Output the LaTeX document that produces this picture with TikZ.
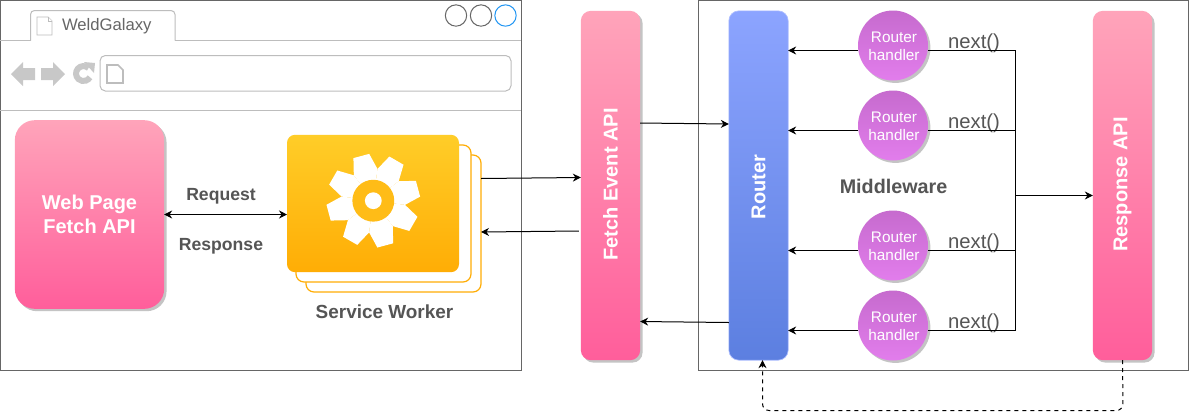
\documentclass[tikz,border=0pt]{standalone}
\usepackage{fontspec}
\setmainfont{Liberation Sans}
\usetikzlibrary{arrows.meta,shadows}
\definecolor{framegray}{HTML}{666666}
\definecolor{linegray}{HTML}{BDBDBD}
\definecolor{icongray}{HTML}{C8C8C8}
\definecolor{textgray}{HTML}{555555}
\definecolor{shadowgray}{HTML}{C4C4C4}
\definecolor{pinktop}{HTML}{FFA4BA}
\definecolor{pinkbot}{HTML}{FF5E9B}
\definecolor{bluetop}{HTML}{8CA4FF}
\definecolor{bluebot}{HTML}{5C7FE0}
\definecolor{purtop}{HTML}{C66BCE}
\definecolor{purbot}{HTML}{E27DEC}
\definecolor{ambertop}{HTML}{FFCD28}
\definecolor{amberbot}{HTML}{FFAD05}
\definecolor{ambermid}{HTML}{FFBC17}
\definecolor{winblue}{HTML}{2196F3}
\tikzset{
  x=0.75pt,y=-0.75pt,
  every node/.style={inner sep=0pt,outer sep=0pt},
  shad/.style={drop shadow={shadow xshift=1.8pt,shadow yshift=-1.8pt,fill=shadowgray,opacity=1}},
  pinkbar/.style={rectangle,rounded corners=7.5pt,top color=pinktop,bottom color=pinkbot,shad},
  bluebar/.style={rectangle,rounded corners=7.5pt,top color=bluetop,bottom color=bluebot,draw=bluetop!70!white,line width=0.5pt},
  handler/.style={circle,minimum size=52.5pt,top color=purtop,bottom color=purbot,shad},
  handlertext/.style={text=white,font=\fontsize{11.5}{13.5}\selectfont,align=center},
  whitebold/.style={text=white,font=\bfseries\fontsize{15}{18}\selectfont,align=center},
  graybold/.style={text=textgray,font=\bfseries\fontsize{14.2}{17}\selectfont},
  mwbold/.style={text=textgray,font=\bfseries\fontsize{14.8}{17}\selectfont},
  smallbold/.style={text=textgray,font=\bfseries\fontsize{13.2}{15}\selectfont},
  nextlabel/.style={text=textgray,font=\fontsize{15.2}{17}\selectfont},
  conn/.style={-{Stealth[length=6pt,width=6pt]},line width=0.75pt,black},
  plainconn/.style={line width=0.75pt,black},
  panel/.style={draw=framegray,line width=0.75pt,fill=white},
  rule/.style={draw=linegray,line width=0.75pt},
  stackcard/.style={draw=amberbot,line width=0.9pt,fill=white,rounded corners=6pt},
  wincircle/.style={circle,draw=framegray,line width=0.75pt,minimum size=16pt},
  pageicon/.style={draw=linegray,fill=white,line width=0.6pt},
}
\begin{document}
\begin{tikzpicture}
\useasboundingbox (0,0) rectangle (1189,419);
\fill[white] (0,0) rectangle (1189,419);

% browser window
\draw[panel] (0.5,0.5) rectangle (521,370.5);
\draw[rule] (0,40.5) -- (30.5,40.5);
\draw[rule] (175,40.5) -- (521,40.5);
\draw[rule] (0,110.5) -- (521,110.5);
\draw[rule,rounded corners=3pt] (30.5,40.5) -- (30.5,10.5) -- (175,10.5) -- (175,40.5);
\draw[pageicon] (37,17) -- (48,17) -- (52,21) -- (52,35) -- (37,35) -- cycle;
\draw[pageicon] (48,17) -- (48,21) -- (52,21);
\node[anchor=west,text=framegray,font=\fontsize{12.5}{15}\selectfont] (tabtitle) at (62,26.5) {WeldGalaxy};
\node[wincircle] (wa) at (456,15.5) {};
\node[wincircle] (wb) at (481,15.5) {};
\node[wincircle,draw=winblue] (wc) at (505.5,15.5) {};

% toolbar
\fill[icongray] (11,74) -- (23,62) -- (23,68) -- (35,68) -- (35,80) -- (23,80) -- (23,86) -- cycle;
\fill[icongray] (65,74) -- (53,62) -- (53,68) -- (41,68) -- (41,80) -- (53,80) -- (53,86) -- cycle;
\draw[icongray,line width=4.5pt] (88.5,68) arc[start angle=48,end angle=330,radius=5.6pt];
\fill[icongray] (84,62) -- (95,63) -- (94,73) -- cycle;
\draw[draw=linegray,line width=0.75pt,rounded corners=4pt] (100,55.5) rectangle (511,91);
\draw[draw=linegray,line width=1.2pt] (107,65) -- (118,65) -- (123,70) -- (123,83) -- (107,83) -- cycle;

% web page
\node[pinkbar,rounded corners=15pt,minimum width=112pt,minimum height=141.5pt] (web) at (89.5,214.5) {};
\node[whitebold] (weblabel) at (89.5,214) {Web Page\\Fetch API};

% service worker
\draw[stackcard] (306,155) rectangle (481,292);
\draw[stackcard] (296,145) rectangle (471,282);
\node[rectangle,rounded corners=6pt,minimum width=129pt,minimum height=103pt,top color=ambertop,bottom color=amberbot] (sw) at (373,203.5) {};
\begin{scope}[shift={(373.3,200.7)}]
  \foreach \a in {105,60,15,-30,-75,-120,-165,150}{
    \fill[white] (0,0) -- ({-\a-22.5}:32) -- ({-\a-10}:47) -- ({-\a+10}:47) -- ({-\a+22.5}:32) -- cycle;
  }
  \fill[ambermid] (0,0) circle[radius=15.7pt];
  \fill[white] (0,0) circle[radius=6.3pt];
\end{scope}
\node[graybold] (swlabel) at (384.5,311.5) {Service Worker};
\node[smallbold] (req) at (221,196) {Request};
\node[smallbold] (resp) at (221,246.5) {Response};

% bars
\node[pinkbar,minimum width=44.5pt,minimum height=262pt] (fetch) at (610.5,185.5) {};
\node[whitebold,rotate=90] (fetchlabel) at (610.5,184.5) {Fetch Event API};

% middleware panel
\draw[panel] (698,0.5) rectangle (1188.5,370.5);
\node[bluebar,minimum width=44.5pt,minimum height=262pt] (router) at (758.5,185.5) {};
\node[whitebold,rotate=90] (routerlabel) at (758.5,187) {Router};
\node[pinkbar,minimum width=44.5pt,minimum height=262pt] (response) at (1122.5,185.5) {};
\node[whitebold,rotate=90] (responselabel) at (1122.5,184.5) {Response API};

\node[handler] (h1) at (893,45.5) {};
\node[handler] (h2) at (893,125.5) {};
\node[handler] (h3) at (893,245.5) {};
\node[handler] (h4) at (893,325.5) {};
\node[handlertext] (t1) at (894,46.5) {Router\\handler};
\node[handlertext] (t2) at (894,126.5) {Router\\handler};
\node[handlertext] (t3) at (894,246.5) {Router\\handler};
\node[handlertext] (t4) at (894,326.5) {Router\\handler};
\node[mwbold] (mw) at (893.5,186.5) {Middleware};
\node[nextlabel] (n1) at (974,43) {next()};
\node[nextlabel] (n2) at (974,123) {next()};
\node[nextlabel] (n3) at (974,243) {next()};
\node[nextlabel] (n4) at (974,323) {next()};

\coordinate (busa) at (1015,50.5);
\coordinate (busd) at (1015,330.5);
\coordinate (busm) at (1015,195.5);

% connectors
\draw[conn,{Stealth[length=6pt,width=6pt]}-{Stealth[length=6pt,width=6pt]}] (web.east |- 0,214.5) -- (sw.west |- 0,214.5);
\draw[conn] (481,178.5) -- (fetch.west |- 0,177.5);
\draw[conn] (fetch.west |- 0,231) ++(-2,0) -- (481,232);
\draw[conn] (fetch.east |- 0,123) -- (router.west |- 0,124);
\draw[conn] (router.west |- 0,322.5) -- (fetch.east |- 0,321.5);
\draw[conn] (h1.west |- 0,50.5) -- (router.east |- 0,50.5);
\draw[conn] (h2.west |- 0,130.5) -- (router.east |- 0,130.5);
\draw[conn] (h3.west |- 0,250.5) -- (router.east |- 0,250.5);
\draw[conn] (h4.west |- 0,330.5) -- (router.east |- 0,330.5);
\draw[plainconn] (h1.east |- busa) -- (busa) -- (busd) -- (h4.east |- busd);
\draw[plainconn] (h2.east |- 0,130.5) -- (1016,130.5);
\draw[plainconn] (h3.east |- 0,250.5) -- (1016,250.5);
\draw[conn] (busm) -- (response.west |- busm);
\draw[conn,dashed,line width=0.75pt,rounded corners=5pt] (response.south) -- (1123,410.5) -- (762.5,410.5) -- (router.south -| 762.5,0);
\end{tikzpicture}
\end{document}
